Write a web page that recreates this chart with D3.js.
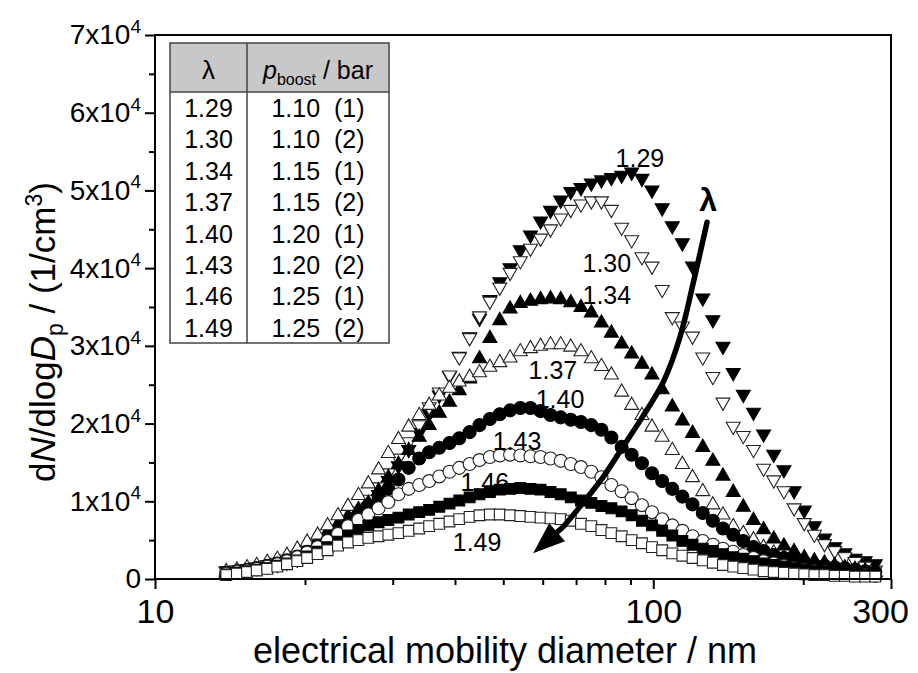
<!DOCTYPE html>
<html><head><meta charset="utf-8">
<script src="https://cdn.jsdelivr.net/npm/d3@7"></script>
<style>
body{margin:0;background:#fff}
svg{display:block}
text{font-family:"Liberation Sans",Arial,sans-serif;fill:#000}
</style>
</head><body>
<svg id="c" width="918" height="673"></svg>
<script>
// ---------------- DATA ----------------
// electrical mobility diameter (nm)
const diameters = [13.9,14.6,15.3,16.0,16.8,17.6,18.4,19.3,20.2,21.2,
  22.2,23.3,24.4,25.6,26.8,28.1,29.4,30.8,32.3,33.9,
  35.5,37.2,39.0,40.8,42.8,44.8,47.0,49.2,51.6,54.1,
  56.7,59.4,62.2,65.2,68.3,71.6,75.1,78.7,82.4,86.4,
  90.5,94.9,99.4,104.2,109.2,114.4,119.9,125.7,131.7,138.0,
  144.7,151.6,158.9,166.5,174.5,182.9,191.7,200.9,210.5,220.6,
  231.2,242.3,254.0,266.2,279.0];

// dN/dlogDp in units of 10^3 1/cm^3
const lam129 = [0.8,0.9,1.0,1.2,1.4,1.6,1.9,2.3,2.8,3.4,
  4.2,5.1,6.2,7.5,9.0,10.6,12.4,14.3,16.4,18.6,
  21.0,23.4,25.9,28.4,30.9,33.3,35.7,38.0,39.8,42.1,
  44.0,45.8,47.2,48.5,49.6,50.1,50.7,51.1,51.4,51.7,
  52.1,51.3,49.8,47.5,45.2,43.0,40.0,35.9,33.1,29.7,
  26.3,23.5,21.2,18.4,15.8,13.8,11.1,8.6,6.6,5.0,
  3.9,3.1,2.4,2.1,1.7];
const lam130 = [0.7,0.9,1.1,1.3,1.6,1.9,2.3,2.8,3.4,4.1,
  5.0,6.0,7.2,8.5,10.0,11.6,13.4,15.3,17.4,19.6,
  21.9,23.8,26.0,28.3,30.8,33.6,35.5,37.3,39.2,40.7,
  42.3,43.6,44.8,46.2,47.3,48.0,48.4,48.4,47.3,45.0,
  43.4,41.2,40.0,37.0,33.5,32.3,31.0,28.3,25.8,22.5,
  19.4,18.2,16.4,14.0,12.5,11.1,8.9,7.0,5.5,4.3,
  3.4,2.6,2.0,1.4,0.9];
const lam134 = [1.0,1.2,1.5,1.8,2.2,2.6,3.1,3.7,4.5,5.3,
  6.3,7.3,8.3,9.2,10.0,11.6,13.3,15.0,16.8,18.5,
  20.0,21.6,23.0,24.5,26.0,28.6,31.2,33.5,35.0,35.7,
  36.0,36.2,36.3,36.2,35.8,35.2,34.5,33.2,31.9,30.5,
  29.2,27.9,26.5,24.6,22.4,20.6,19.0,17.2,15.4,13.5,
  11.4,9.5,7.8,6.6,5.4,4.5,3.8,3.0,2.6,2.3,
  2.0,1.7,1.5,1.3,1.1];
const lam137 = [1.2,1.4,1.7,2.0,2.4,2.8,3.3,4.1,5.0,5.9,
  7.1,8.4,9.6,11.0,12.5,14.3,16.4,18.2,19.8,21.3,
  22.6,23.8,24.8,25.6,26.2,26.8,27.5,28.1,28.7,29.5,
  29.9,30.2,30.4,30.4,30.1,29.5,28.6,27.6,26.5,24.3,
  22.6,21.3,19.8,18.5,16.8,15.0,13.3,11.5,9.8,8.5,
  7.0,6.1,5.3,4.3,3.6,3.0,2.4,2.1,1.9,1.6,
  1.4,1.2,1.0,0.9,0.8];
const lam140 = [0.8,1.0,1.2,1.4,1.7,2.0,2.4,2.9,3.5,4.2,
  5.0,6.0,7.1,8.3,9.5,10.6,11.6,12.8,14.3,15.5,
  16.3,16.9,17.5,18.1,18.9,19.8,20.6,21.2,21.7,22.0,
  22.0,21.6,21.1,20.8,20.5,20.2,19.8,19.2,18.2,17.0,
  16.0,14.9,13.6,12.6,11.6,10.6,9.6,8.5,7.5,6.5,
  5.7,4.9,4.1,3.6,3.1,2.7,2.4,2.1,1.8,1.7,
  1.5,1.4,1.2,1.0,0.9];
const lam143 = [0.7,0.9,1.1,1.3,1.6,1.9,2.3,2.8,3.4,4.1,
  4.9,5.8,6.8,7.6,8.3,9.1,9.9,10.9,11.6,12.1,
  12.6,13.2,13.8,14.3,14.8,15.3,15.7,15.9,16.0,15.9,
  15.8,15.7,15.5,15.2,14.8,14.4,13.8,13.1,12.1,11.3,
  10.4,9.5,8.6,7.7,6.9,6.2,5.5,4.9,4.4,3.9,
  3.5,3.1,2.7,2.3,2.0,1.7,1.4,1.2,1.0,0.9,
  0.7,0.6,0.5,0.5,0.4];
const lam146 = [0.6,0.8,1.0,1.2,1.4,1.7,2.0,2.4,2.9,3.5,
  4.1,4.8,5.6,6.3,6.9,7.3,7.6,7.9,8.3,8.6,
  8.9,9.3,9.7,10.1,10.5,10.9,11.2,11.5,11.6,11.7,
  11.6,11.5,11.2,10.9,10.5,10.1,9.8,9.4,9.1,8.7,
  8.2,7.5,6.9,6.2,5.6,4.9,4.4,3.9,3.6,3.2,
  2.8,2.6,2.3,2.0,1.8,1.6,1.4,1.2,1.0,0.9,
  0.8,0.7,0.6,0.5,0.5];
const lam149 = [0.5,0.7,0.9,1.1,1.3,1.6,1.9,2.3,2.7,3.2,
  3.7,4.3,4.7,5.0,5.3,5.5,5.7,5.9,6.2,6.5,
  6.8,7.1,7.4,7.7,8.0,8.2,8.3,8.3,8.2,8.1,
  8.0,7.9,7.8,7.7,7.5,7.1,6.8,6.3,5.9,5.5,
  5.0,4.6,4.1,3.7,3.3,3.0,2.7,2.4,2.1,1.8,
  1.6,1.4,1.2,1.0,0.9,0.8,0.7,0.6,0.5,0.5,
  0.4,0.4,0.3,0.3,0.3];

const seriesNames = ["1.29","1.30","1.34","1.37","1.40","1.43","1.46","1.49"];
const seriesValues = [lam129,lam130,lam134,lam137,lam140,lam143,lam146,lam149];
const seriesShapes = ["triDown","triDown","triUp","triUp","circle","circle","square","square"];
const seriesFilled = [true,false,true,false,true,false,true,false];

// curve labels: [diameter nm, value 10^3]
const labelPos = [[94.0,54.2],[80.7,40.7],[80.7,36.5],[62.9,26.9],[65.0,23.2],[53.3,17.8],[45.9,12.5],[44.3,4.8]];

// legend table
const tableLambda = ["1.29","1.30","1.34","1.37","1.40","1.43","1.46","1.49"];
const tablePboost = ["1.10  (1)","1.10  (2)","1.15  (1)","1.15  (2)","1.20  (1)","1.20  (2)","1.25  (1)","1.25  (2)"];

// axis ticks
const xMajor = [10,100,300];
const xMinor = [20,30,40,50,60,70,80,90,200];
const yMajor = [0,10,20,30,40,50,60,70];
const yMinor = [5,15,25,35,45,55,65];

// lambda arrow path [diameter nm, value 10^3]
const arrowPts = [[128.2,45.9],[120.2,38.0],[113.1,31.1],[105.0,25.5],[95.0,20.8],[86.9,17.0],[79.3,13.1],[72.3,9.8],[65.9,6.7]];
const arrowTip = [57.4,3.3];
const lambdaLabelPos = [128.8,47.4];

// ---------------- CHART ----------------
const svg = d3.select("#c");
const L=155,R=891,T=35,B=579;
const x = d3.scaleLog().domain([10,300]).range([L,R]);
const y = d3.scaleLinear().domain([0,70]).range([B,T]);

// axes
const gx = svg.append("g").attr("transform",`translate(0,${B})`)
  .call(d3.axisBottom(x).tickValues(xMajor).tickSize(10).tickPadding(10).tickFormat(d3.format("d")));
const gxm = svg.append("g").attr("transform",`translate(0,${B})`)
  .call(d3.axisBottom(x).tickValues(xMinor).tickSize(6).tickFormat(""));
const gy = svg.append("g").attr("transform",`translate(${L},0)`)
  .call(d3.axisLeft(y).tickValues(yMajor).tickSize(10).tickPadding(6).tickFormat(""));
const gym = svg.append("g").attr("transform",`translate(${L},0)`)
  .call(d3.axisLeft(y).tickValues(yMinor).tickSize(6).tickFormat(""));
[gx,gxm,gy,gym].forEach(g=>{
  g.select(".domain").remove();
  g.selectAll(".tick line").attr("stroke","#000").attr("stroke-width",2);
});
gx.selectAll(".tick text").attr("font-size",34).attr("font-family","Liberation Sans, Arial, sans-serif").attr("fill","#000")
  .attr("dx",d=>d===300?-11:0);
gy.selectAll(".tick text").each(function(d){
  const t=d3.select(this).attr("font-size",28).attr("font-family","Liberation Sans, Arial, sans-serif").attr("fill","#000").attr("x",-14);
  if(d===0){ t.text("0"); }
  else {
    t.text(null);
    t.append("tspan").text((d/10)+"x10");
    t.append("tspan").attr("font-size",19).attr("dy","-0.6em").text("4");
  }
});

// data markers
const sym = {
  triDown: "M-7,-6L7,-6L0,6.2Z",
  triUp: "M-7,6L7,6L0,-6.2Z",
  square: "M-5.4,-5.4H5.4V5.4H-5.4Z",
  circle: d3.symbol().type(d3.symbolCircle).size(132)()
};
seriesValues.forEach((vals,si)=>{
  const g = svg.append("g");
  g.selectAll("path").data(vals).join("path")
    .attr("transform",(v,i)=>`translate(${x(diameters[i])},${y(v)})`)
    .attr("d",sym[seriesShapes[si]])
    .attr("fill",seriesFilled[si]?"#000":"#fff")
    .attr("stroke",seriesFilled[si]?"#000":"#222")
    .attr("stroke-width",1.1);
});

// frame
svg.append("rect").attr("x",L).attr("y",T).attr("width",R-L).attr("height",B-T)
  .attr("fill","none").attr("stroke","#000").attr("stroke-width",2);

// curve labels
svg.append("g").selectAll("text").data(seriesNames).join("text")
  .attr("x",(d,i)=>x(labelPos[i][0])).attr("y",(d,i)=>y(labelPos[i][1]))
  .attr("dy","0.36em").attr("text-anchor","middle").attr("font-size",25).text(d=>d);

// lambda arrow
const pts = arrowPts.map(p=>[x(p[0]),y(p[1])]);
const tip = [x(arrowTip[0]),y(arrowTip[1])];
const last = pts[pts.length-1];
let dx=tip[0]-last[0], dy=tip[1]-last[1]; const len=Math.hypot(dx,dy); dx/=len; dy/=len;
const headLen=32, headW=12;
const base=[tip[0]-dx*headLen, tip[1]-dy*headLen];
svg.append("path").attr("d",d3.line().curve(d3.curveCatmullRom)(pts.concat([base])))
  .attr("fill","none").attr("stroke","#000").attr("stroke-width",5.5).attr("stroke-linecap","round");
svg.append("path").attr("d",`M${tip[0]},${tip[1]}L${base[0]-dy*headW},${base[1]+dx*headW}L${base[0]+dy*headW},${base[1]-dx*headW}Z`)
  .attr("fill","#000");
svg.append("text").attr("x",x(lambdaLabelPos[0])).attr("y",y(lambdaLabelPos[1]))
  .attr("text-anchor","middle").attr("font-size",32).attr("font-weight","bold").attr("font-family","Liberation Serif, serif").text("λ");

// legend table
const tb = svg.append("g");
const tx0=170, tx1=247, tx2=389, ty0=43, ty1=92, ty2=343;
tb.append("rect").attr("x",tx0).attr("y",ty0).attr("width",tx2-tx0).attr("height",ty1-ty0).attr("fill","#c8c8c8");
tb.append("rect").attr("x",tx0).attr("y",ty1).attr("width",tx2-tx0).attr("height",ty2-ty1).attr("fill","#fff");
tb.append("rect").attr("x",tx0).attr("y",ty0).attr("width",tx2-tx0).attr("height",ty2-ty0).attr("fill","none").attr("stroke","#444").attr("stroke-width",1.5);
tb.append("line").attr("x1",tx1).attr("x2",tx1).attr("y1",ty0).attr("y2",ty2).attr("stroke","#444").attr("stroke-width",1.5);
tb.append("line").attr("x1",tx0).attr("x2",tx2).attr("y1",ty1).attr("y2",ty1).attr("stroke","#444").attr("stroke-width",1.5);
tb.append("text").attr("x",(tx0+tx1)/2).attr("y",79).attr("text-anchor","middle").attr("font-size",26)
  .attr("font-family","Liberation Serif, serif").text("λ");
const hp = tb.append("text").attr("x",(tx1+tx2)/2).attr("y",79).attr("text-anchor","middle").attr("font-size",25);
hp.append("tspan").attr("font-style","italic").text("p");
hp.append("tspan").attr("font-size",16).attr("dy",6).text("boost");
hp.append("tspan").attr("dy",-6).text(" / bar");
tb.selectAll("text.l").data(tableLambda).join("text").attr("class","l")
  .attr("x",(tx0+tx1)/2).attr("y",(d,i)=>117+31.4*i).attr("text-anchor","middle").attr("font-size",25).text(d=>d);
tb.selectAll("text.p").data(tablePboost).join("text").attr("class","p")
  .attr("x",(tx1+tx2)/2).attr("y",(d,i)=>117+31.4*i).attr("text-anchor","middle").attr("font-size",25)
  .style("white-space","pre").text(d=>d);

// axis titles
svg.append("text").attr("x",505).attr("y",663).attr("text-anchor","middle").attr("font-size",36)
  .text("electrical mobility diameter / nm");
const yt = svg.append("text").attr("transform","translate(55,332) rotate(-90)").attr("text-anchor","middle").attr("font-size",35);
yt.append("tspan").text("d");
yt.append("tspan").attr("font-style","italic").text("N");
yt.append("tspan").text("/dlog");
yt.append("tspan").attr("font-style","italic").text("D");
yt.append("tspan").attr("font-size",23).attr("dy",8).text("p");
yt.append("tspan").attr("dy",-8).text(" / (1/cm");
yt.append("tspan").attr("font-size",23).attr("dy",-13).text("3");
yt.append("tspan").attr("dy",13).text(")");
</script>
</body></html>
